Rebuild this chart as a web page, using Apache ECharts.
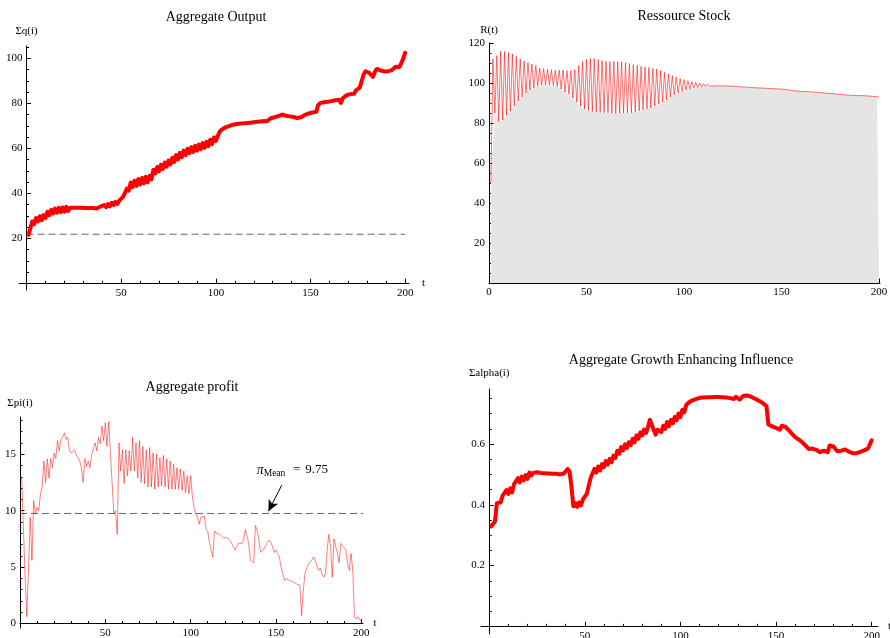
<!DOCTYPE html>
<html><head><meta charset="utf-8">
<script src="https://cdn.jsdelivr.net/npm/echarts@6/dist/echarts.min.js"></script>
<style>html,body{margin:0;padding:0;background:#fff}#c{width:890px;height:638px}</style>
</head><body><div id="c"></div>
<script>
// ---------- data (t = 1..200) ----------
const titles = ['Aggregate Output', 'Ressource Stock', 'Aggregate profit', 'Aggregate Growth Enhancing Influence'];
const yNames = ['Σq(i)', 'R(t)', 'Σpi(i)', 'Σalpha(i)'];
const T_START = 1;

const output = [
21.5,22.2,27.5,26.3,29,27.5,29.8,28,30.3,29,
31.8,30.2,32.6,31,33.2,31.4,33.5,31.6,33.7,31.8,
34,32.2,33.6,33,33.6,33,33.6,33,33.6,33,
33.5,32.9,33.5,32.9,33.5,32.7,33.2,32.8,34.1,33.4,
34.8,33.8,35.2,34.2,35.8,34.8,36.2,35.2,36.8,36.4,
38.4,38.2,42.1,41.2,44.8,42.7,45.6,43.3,46.3,43.9,
46.8,44.4,47.3,44.9,47.8,46.2,50.5,48.8,51.7,49.8,
52.7,50.8,53.7,51.8,54.6,52.8,55.8,54,57,55.1,
58,56.1,59,57,59.8,57.8,60.5,58.4,61.1,59,
61.7,59.6,62.3,60.2,62.9,60.9,63.8,61.9,64.8,63.3,
65.5,67.3,68.3,68.9,69.3,69.6,69.9,70.2,70.5,70.7,
70.8,70.9,71,71.1,71.1,71.2,71.3,71.4,71.5,71.6,
71.7,71.8,71.9,72,72.1,72.1,72,71.4,73.4,73.7,
73.8,73.8,74.3,74.8,75,74.8,74.5,74.3,74.2,74.1,
73.9,73.7,73.5,73.2,73.8,74.6,74.9,75.2,75.5,75.7,
75.9,76,76.2,79.2,80.1,80.4,80.5,80.6,80.7,80.8,
81,81.2,81.4,81.6,81.6,80.2,82.2,83,83.6,84,
84.1,84.1,84.3,85.8,86.5,87,87.8,92.8,94.2,94.3,
93.6,92.8,91.8,94,95.3,95,94.6,94.4,94.2,94.2,
94.3,94.5,94.8,95.6,96.3,96.4,96.2,98,100,102.5];
const outputRef = 21.8;

const resource = [
50,112,85,113.7,80.8,115.8,81.5,115.8,84,115.3,
86,114.5,88.5,113.3,91,112,93,111,95,110.3,
96.5,109.5,97.5,108.7,98.5,107.5,99,107.2,99,106.8,
99,106.7,98.8,106.3,98.3,106.5,97,106.5,95.5,106.2,
94.5,106.2,92.5,106.7,90.5,108.8,88.5,110.7,87,111.7,
86.3,112.2,85.8,112.2,85.5,111.7,85.3,111.2,85.2,110.8,
85,110.7,84.8,110.7,84.7,110.7,84.8,110.5,85,110.2,
85,109.7,85.2,109.2,85.5,108.8,86,108.3,86.5,108,
87,107.8,87.5,107.3,88.5,107,89.5,106.2,90.5,105.3,
91.7,104.5,93,103.7,94,103,95,102.3,95.8,101.7,
96.5,101.2,97,100.7,97.5,100.3,97.8,100,98,99.7,
98.2,99.5,98.4,99.2,98.5,99,98.6,98.8,98.6,98.7,
98.6,98.6,98.5,98.5,98.4,98.4,98.3,98.2,98.1,98,
98,97.9,97.9,97.8,97.7,97.7,97.6,97.6,97.5,97.5,
97.4,97.4,97.3,97.3,97.2,97.2,97.1,97.1,97,97,
96.9,96.8,96.6,96.5,96.3,96.3,96.1,96.3,95.9,96.1,
95.8,96,95.7,95.9,95.6,95.7,95.4,95.6,95.3,95.4,
95.1,95.3,94.9,95.2,94.8,95,94.6,94.8,94.3,94.8,
94.2,94.6,94,94.4,93.9,94.2,93.8,94,93.7,93.9,
93.7,93.7,93.6,93.6,93.5,93.4,93.3,93.2,93.1,93];

const profit = [
12.9,8.5,4.1,0.6,5,9.4,5.6,10.9,9.7,10.3,
10,11.5,12.1,14.4,12.5,14.6,12.9,14.6,13.8,15.1,
14.6,16.2,15.3,16.3,16.5,16.9,16.3,16.5,15.3,15.1,
15,15.4,14.9,14.7,14.4,13.8,12.5,14.6,13.9,14.4,
13.8,15,14.9,16,15.3,16.5,15.9,17.5,16.2,17.8,
15.7,17.9,15.1,15,9.7,10,7.9,16,13.5,15.4,
12.4,15.4,13.1,15.3,13.5,16.5,13.5,16,12.9,16.2,
12.5,15.7,12.4,15.4,12.1,15.6,12.1,15.1,11.9,15,
12.1,14.7,12.2,14.9,12.1,14.6,11.9,14.4,11.9,14.1,
11.9,13.8,11.9,13.7,11.8,13.5,11.6,13.1,11.5,13.1,
11.3,10.3,9.7,9.4,8.8,9.4,9.4,9.5,8.4,8.2,
7.2,6.5,5.9,8.2,8,8.1,7.9,7.8,7.6,7.6,
7.6,7.5,7.4,7.1,6.8,6.5,6.8,7.1,7.2,7.1,
7.4,8.3,7.8,7.1,5.6,5.7,5.4,8.7,8.2,7.4,
6.3,6.2,6.6,6.9,7.2,7.4,7.2,6.8,6.3,6.5,
6.2,5.9,5,4.4,3.8,4,4.1,3.8,3.9,3.7,
3.7,3.5,3.5,3.4,0.7,2.9,4.4,4.9,5.3,5.4,
5.6,5.9,5.6,5.1,4.7,4.9,4.4,4.1,4.4,6.5,
7.9,6.8,4.1,7.5,6.8,6.3,5.4,7.1,6.9,6.8,
6.5,5.3,4.7,6.2,4.7,0.6,0.4,0.6,0.5,0.15];
const profitMean = 9.75;
const meanArrowFrom = [153.4, 12.26];
const meanArrowTo = [145.6, 9.95];

const alpha = [
0.329,0.334,0.345,0.405,0.411,0.408,0.43,0.425,0.448,0.436,
0.454,0.441,0.468,0.469,0.488,0.474,0.493,0.48,0.498,0.485,
0.506,0.496,0.505,0.506,0.507,0.506,0.505,0.505,0.504,0.504,
0.503,0.503,0.502,0.502,0.502,0.501,0.5,0.499,0.503,0.51,
0.518,0.51,0.46,0.395,0.405,0.393,0.408,0.398,0.418,0.415,
0.436,0.432,0.488,0.492,0.518,0.506,0.526,0.513,0.534,0.524,
0.544,0.532,0.551,0.54,0.562,0.554,0.578,0.568,0.59,0.579,
0.599,0.587,0.606,0.596,0.617,0.606,0.628,0.617,0.638,0.628,
0.648,0.636,0.655,0.68,0.675,0.647,0.631,0.647,0.653,0.639,
0.66,0.65,0.672,0.659,0.679,0.668,0.689,0.678,0.7,0.689,
0.713,0.705,0.728,0.735,0.74,0.743,0.746,0.748,0.75,0.752,
0.753,0.753,0.754,0.754,0.754,0.754,0.755,0.755,0.755,0.755,
0.755,0.754,0.754,0.753,0.752,0.751,0.75,0.748,0.755,0.752,
0.746,0.752,0.759,0.76,0.76,0.758,0.755,0.752,0.749,0.746,
0.742,0.739,0.735,0.73,0.724,0.664,0.661,0.658,0.656,0.653,
0.65,0.647,0.66,0.658,0.656,0.65,0.643,0.636,0.63,0.623,
0.618,0.614,0.609,0.604,0.598,0.591,0.584,0.586,0.585,0.583,
0.581,0.577,0.573,0.576,0.578,0.576,0.573,0.595,0.596,0.592,
0.584,0.576,0.57,0.578,0.584,0.582,0.578,0.575,0.572,0.57,
0.57,0.57,0.57,0.574,0.578,0.579,0.579,0.585,0.598,0.612];

// ---------- tick labels ----------
const xMajor = [50, 100, 150, 200];
const xMajor0 = [0, 50, 100, 150, 200];
const xMinor = [10,20,30,40,60,70,80,90,110,120,130,140,160,170,180,190];
const y1Major = [20, 40, 60, 80, 100];
const y1Minor = [5,10,15,25,30,35,45,50,55,65,70,75,85,90,95,105];
const y2Major = [20, 40, 60, 80, 100, 120];
const y2Minor = [5,10,15,25,30,35,45,50,55,65,70,75,85,90,95,105,110,115];
const y3Major = [0, 5, 10, 15];
const y3Minor = [1,2,3,4,6,7,8,9,11,12,13,14,16,17,18];
const y4Major = [0.2, 0.4, 0.6];
const y4Minor = [0.05,0.1,0.15,0.25,0.3,0.35,0.45,0.5,0.55,0.65,0.7,0.75];

// ---------- build ----------
const FONT = '"Liberation Serif", "Times New Roman", serif';
const BLACK = {color: '#000', width: 1};
const toPairs = arr => arr.map((v, i) => [i + T_START, v]);
// the grey filling reaches the troughs of the oscillating stock (odd steps) only
const resourcePairs = toPairs(resource);
const resourceFill = resourcePairs.filter(p => p[0] % 2 === 1 || p[0] === resourcePairs.length);

function axisPair(dim, g, min, max, major, labels, minor, name, nameGap, margin) {
  const pos = dim === 'x' ? 'bottom' : 'left';
  const main = {
    type: 'value', gridIndex: g, min: min, max: max, position: pos,
    axisLine: {show: true, onZero: true, lineStyle: BLACK},
    axisTick: {show: true, inside: true, length: 4.5, customValues: major, lineStyle: BLACK},
    axisLabel: {show: true, customValues: labels, margin: margin, color: '#000',
                fontFamily: FONT, fontSize: 11},
    splitLine: {show: false},
    name: name, nameLocation: 'end', nameGap: nameGap,
    nameTextStyle: {color: '#000', fontFamily: FONT, fontSize: 11}
  };
  const minorAx = {
    type: 'value', gridIndex: g, min: min, max: max, position: pos,
    axisLine: {show: false, onZero: true},
    axisTick: {show: true, inside: true, length: 2.5, customValues: minor, lineStyle: BLACK},
    axisLabel: {show: false}, splitLine: {show: false}
  };
  return [main, minorAx];
}

const grids = [
  {left: 19, top: 46, width: 390, height: 244, outerBoundsMode: 'none', containLabel: false},
  {left: 489, top: 43, width: 391, height: 240, outerBoundsMode: 'none', containLabel: false},
  {left: 20, top: 417, width: 343, height: 211, outerBoundsMode: 'none', containLabel: false},
  {left: 481, top: 389, width: 397, height: 245, outerBoundsMode: 'none', containLabel: false}
];

const xAxes = [].concat(
  axisPair('x', 0, -4, 202, xMajor, xMajor, xMinor, 't', 13, -2.5),
  axisPair('x', 1, 0, 200.5, xMajor0, xMajor0, xMinor, 't', 9, 4),
  axisPair('x', 2, 0, 201, xMajor, xMajor, xMinor, 't', 10, -0.5),
  axisPair('x', 3, -4.3, 203.3, xMajor, xMajor, xMinor, 't', 10, -3.5)
);
const yAxes = [].concat(
  axisPair('y', 0, -3, 105.5, y1Major, y1Major, y1Minor, yNames[0], 9, -3.5),
  axisPair('y', 1, 0, 120, y2Major, y2Major, y2Minor, yNames[1], 7, 4),
  axisPair('y', 2, -0.4, 18.3, y3Major, y3Major, y3Minor, yNames[2], 8, 4),
  axisPair('y', 3, -0.025, 0.781, y4Major, y4Major, y4Minor, yNames[3], 10, -4)
);

const titleStyle = {fontFamily: FONT, fontSize: 14, fontWeight: 'normal', color: '#000'};
const titleCenters = [[216, 10], [684, 9], [192, 380], [681, 353]];
const title = titles.map((t, i) => ({
  text: t, left: titleCenters[i][0], top: titleCenters[i][1], textAlign: 'center',
  padding: 0, textStyle: titleStyle
}));

const dashed = {color: '#666', width: 1, type: [7, 4]};
const annoLabel = (text, size, italic) => ({
  show: true, position: [0, 0], align: 'left', verticalAlign: 'middle', formatter: text,
  fontFamily: FONT, fontSize: size, fontStyle: italic ? 'italic' : 'normal', color: '#000'
});

const series = [
  {type: 'line', xAxisIndex: 0, yAxisIndex: 0, data: [[0, outputRef], [200, outputRef]],
   showSymbol: false, silent: true, lineStyle: dashed},
  {type: 'line', xAxisIndex: 0, yAxisIndex: 0, data: toPairs(output), showSymbol: false,
   lineStyle: {color: '#ff0000', width: 4, join: 'round', cap: 'round'}},
  {type: 'line', xAxisIndex: 2, yAxisIndex: 2, data: resourceFill, showSymbol: false, silent: true,
   lineStyle: {width: 0, opacity: 0},
   areaStyle: {color: '#e5e5e5', opacity: 1}},
  {type: 'line', xAxisIndex: 2, yAxisIndex: 2, data: resourcePairs, showSymbol: false,
   lineStyle: {color: 'rgba(255,0,0,0.55)', width: 1}},
  {type: 'line', xAxisIndex: 4, yAxisIndex: 4, data: [[0, profitMean], [201, profitMean]],
   showSymbol: false, silent: true, lineStyle: dashed},
  {type: 'line', xAxisIndex: 4, yAxisIndex: 4, data: toPairs(profit), showSymbol: false,
   lineStyle: {color: 'rgba(255,0,0,0.5)', width: 1},
   markLine: {silent: true, symbol: ['none', 'arrow'], symbolSize: [8, 11], label: {show: false},
     lineStyle: {color: '#000', width: 1, type: 'solid'},
     data: [[{coord: meanArrowFrom}, {coord: meanArrowTo}]]},
   markPoint: {silent: true, symbolSize: 0, data: [
     {coord: [138.7, 13.59], label: annoLabel('π', 14, true)},
     {coord: [142.8, 13.3], label: annoLabel('Mean', 9.5, false)},
     {coord: [160.0, 13.62], label: annoLabel('=', 13, false)},
     {coord: [167.1, 13.62], label: annoLabel(String(profitMean), 13, false)}
   ]}},
  {type: 'line', xAxisIndex: 6, yAxisIndex: 6, data: toPairs(alpha), showSymbol: false,
   lineStyle: {color: '#ff0000', width: 4, join: 'round', cap: 'round'}}
];

const chart = echarts.init(document.getElementById('c'), null, {renderer: 'canvas'});
chart.setOption({
  animation: false, backgroundColor: '#fff',
  title: title, grid: grids, xAxis: xAxes, yAxis: yAxes, series: series
});
</script></body></html>
